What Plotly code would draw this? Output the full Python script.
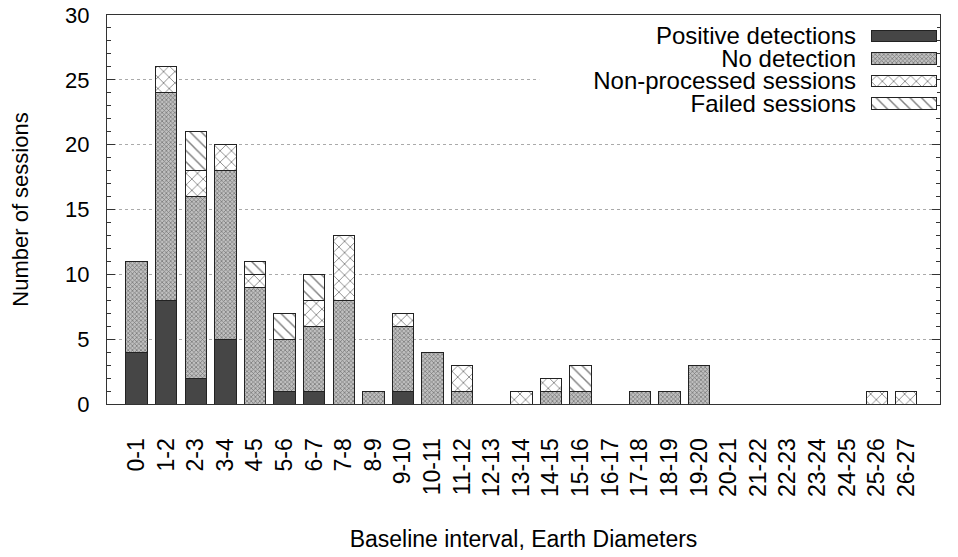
import plotly.graph_objects as go

categories = ["0-1", "1-2", "2-3", "3-4", "4-5", "5-6", "6-7", "7-8", "8-9", "9-10",
              "10-11", "11-12", "12-13", "13-14", "14-15", "15-16", "16-17", "17-18",
              "18-19", "19-20", "20-21", "21-22", "22-23", "23-24", "24-25", "25-26", "26-27"]
positive = [4, 8, 2, 5, 0, 1, 1, 0, 0, 1, 0, 0, 0, 0, 0, 0, 0, 0, 0, 0, 0, 0, 0, 0, 0, 0, 0]
no_detection = [7, 16, 14, 13, 9, 4, 5, 8, 1, 5, 4, 1, 0, 0, 1, 1, 0, 1, 1, 3, 0, 0, 0, 0, 0, 0, 0]
non_processed = [0, 2, 2, 2, 1, 0, 2, 5, 0, 1, 0, 2, 0, 1, 1, 0, 0, 0, 0, 0, 0, 0, 0, 0, 0, 1, 1]
failed = [0, 0, 3, 0, 1, 2, 2, 0, 0, 0, 0, 0, 0, 0, 0, 2, 0, 0, 0, 0, 0, 0, 0, 0, 0, 0, 0]

series_names = ["Positive detections", "No detection", "Non-processed sessions", "Failed sessions"]
series_values = [positive, no_detection, non_processed, failed]
legend_swatch = [1, 1, 1, 1]

FONT = "Liberation Sans, Arial, sans-serif"
styles = [
    dict(color="#464646", pattern=dict(shape="")),
    dict(color="#999999", pattern=dict(shape="x", size=3, solidity=0.42, fgcolor="#2a2a2a", bgcolor="#c0c0c0", fillmode="overlay")),
    dict(color="white", pattern=dict(shape="x", size=8, solidity=0.2, fgcolor="#000000", bgcolor="white", fillmode="overlay")),
    dict(color="white", pattern=dict(shape="\\", size=8, solidity=0.18, fgcolor="#000000", bgcolor="white", fillmode="overlay")),
]

fig = go.Figure()
for name, vals, st in zip(series_names, series_values, styles):
    fig.add_trace(go.Bar(
        x=categories, y=[v if v else None for v in vals], name=name, width=0.72,
        marker=dict(color=st["color"], pattern=st["pattern"], line=dict(color="#222222", width=1)),
        showlegend=False, xaxis="x", yaxis="y",
    ))

# custom legend: text on the left, swatch on the right (gnuplot style)
for name, sw, st in zip(series_names, legend_swatch, styles):
    fig.add_trace(go.Bar(
        x=[sw], y=[name], orientation="h", width=0.52,
        marker=dict(color=st["color"], pattern=st["pattern"], line=dict(color="#222222", width=1)),
        showlegend=False, xaxis="x2", yaxis="y2", hoverinfo="skip",
    ))

fig.update_layout(
    width=958, height=557,
    margin=dict(l=107, r=18, t=15, b=153, autoexpand=False),
    paper_bgcolor="white", plot_bgcolor="white",
    barmode="stack",
    font=dict(family=FONT, size=23, color="#000000"),
    xaxis=dict(
        type="category", categoryorder="array", categoryarray=categories,
        range=[-1, 27.14], showline=True, linecolor="#333333", linewidth=1, mirror=True,
        ticks="", tickangle=-90, ticklabelstandoff=24, showgrid=False, automargin=False,
        tickfont=dict(size=23),
        title=dict(text="Baseline interval, Earth Diameters", standoff=34, font=dict(size=23)),
    ),
    yaxis=dict(
        range=[0, 30], dtick=5, tick0=0, showline=True, linecolor="#333333", linewidth=1,
        mirror="ticks", ticks="inside", ticklen=8, tickcolor="#333333", automargin=False,
        minor=dict(dtick=1, ticks="inside", ticklen=4, tickcolor="#333333", showgrid=False),
        showgrid=True, gridcolor="#aaaaaa", griddash="dot", gridwidth=1,
        zeroline=False, ticklabelstandoff=12, tickfont=dict(size=22),
        title=dict(text="Number of sessions", standoff=30, font=dict(size=22)),
    ),
    xaxis2=dict(domain=[0.9172, 0.9964], anchor="y2", range=[0, 1], visible=False,
                fixedrange=True, automargin=False),
    yaxis2=dict(domain=[0.7436, 0.975], anchor="x2", type="category", autorange="reversed",
                tickmode="linear", dtick=1, tick0=0, automargin=False,
                showline=False, showgrid=False, zeroline=False, ticks="",
                ticklabelstandoff=14, tickfont=dict(size=24), fixedrange=True),
    shapes=[dict(type="rect", xref="x", yref="y", x0=13.6, x1=27.1, y0=21.3, y1=29.6,
                 fillcolor="white", line=dict(width=0), layer="between")],
)

fig.write_html("out.html")
